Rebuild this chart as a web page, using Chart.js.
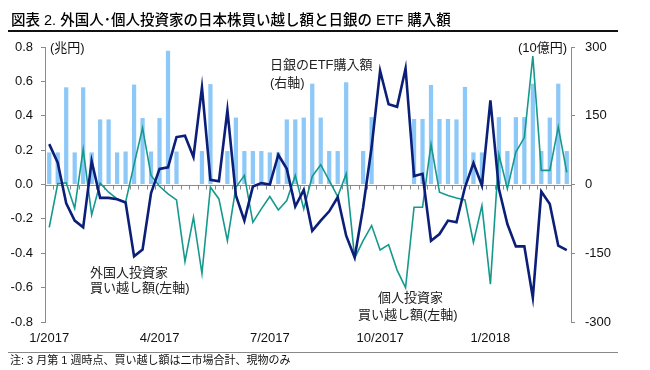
<!DOCTYPE html>
<html lang="ja">
<head>
<meta charset="utf-8">
<title>図表 2</title>
<script src="https://cdn.jsdelivr.net/npm/chart.js@4.4.0/dist/chart.umd.min.js"></script>
<style>
  body { margin: 0; background: #fff; }
  #wrap { position: relative; width: 650px; height: 370px; font-family: "Liberation Sans", "Noto Sans CJK JP", sans-serif; color: #111; }
  #wrap canvas { position: absolute; left: 0; top: 0; }
  .txt { position: absolute; white-space: nowrap; }
  .title { left: 11px; top: 10px; font-size: 14.5px; line-height: 20px; font-weight: 500; color: #000; }
  .rule { position: absolute; left: 8px; width: 610px; }
  .note { left: 10px; top: 352px; font-size: 11px; line-height: 16px; }
  .unit { font-size: 13px; line-height: 16px; top: 40px; }
  .ann { font-size: 13px; line-height: 16px; color: #222; }
</style>
</head>
<body>
<div id="wrap">
  <canvas id="chart" width="650" height="370"></canvas>
  <div class="txt title">図表 2. 外国人･個人投資家の日本株買い越し額と日銀の ETF 購入額</div>
  <div class="rule" style="top:30px;height:2px;background:#111"></div>
  <div class="rule" style="top:352px;height:1px;background:#888"></div>
  <div class="txt note">注: 3 月第 1 週時点、買い越し額は二市場合計、現物のみ</div>
  <div class="txt unit" style="left:50px">(兆円)</div>
  <div class="txt unit" style="right:83px">(10億円)</div>
  <div class="txt ann" style="left:270px;top:57px">日銀のETF購入額</div>
  <div class="txt ann" style="left:270px;top:75px">(右軸)</div>
  <div class="txt ann" style="left:90px;top:265px">外国人投資家</div>
  <div class="txt ann" style="left:90px;top:280px">買い越し額(左軸)</div>
  <div class="txt ann" style="left:378px;top:290px">個人投資家</div>
  <div class="txt ann" style="left:358px;top:307px">買い越し額(左軸)</div>
</div>
<script>
// weekly data, Jan 2017 - early Mar 2018
const tickLabels = ['1/2017', '4/2017', '7/2017', '10/2017', '1/2018'];
const tickIndex = [0, 13, 26, 39, 52];

// 日銀 ETF 購入額 (10億円, right axis)
const etfBuying = [
  70, 70, 212, 70, 212, 70, 142, 142, 70, 72, 218, 145, 72, 145, 292, 72,
  0, 0, 73, 219, 0, 73, 146, 73, 73, 73, 70, 70, 142, 142, 146, 220,
  146, 73, 73, 223, 0, 73, 147, 0, 0, 0, 0, 143, 143, 217, 143, 143,
  142, 213, 70, 70, 0, 147, 73, 147, 147, 220, 73, 146, 220, 73
];

// 外国人投資家 買い越し額 (兆円, left axis)
const foreigners = [
  0.235, 0.127, -0.109, -0.21, -0.249, 0.136, -0.078, -0.078, -0.086, -0.105, -0.418, -0.378, -0.05, 0.091, 0.10, 0.276,
  0.284, 0.16, 0.565, 0.027, 0.019, 0.432, -0.064, -0.21, -0.012, 0.008, 0.0, 0.173, 0.091, -0.128, -0.031, -0.27,
  -0.21, -0.156, -0.074, -0.298, -0.424, -0.132, 0.218, 0.662, 0.467, 0.452, 0.675, 0.049, 0.062, -0.327, -0.288, -0.21,
  -0.22, -0.016, 0.125, -0.006, 0.49, -0.025, -0.23, -0.36, -0.36, -0.658, -0.041, -0.113, -0.356, -0.382
];

// 個人投資家 買い越し額 (兆円, left axis)
const individuals = [
  -0.249, 0.004, 0.01, -0.138, 0.204, -0.177, 0.008, -0.045, -0.084, -0.103, 0.117, 0.329, 0.053, -0.01, -0.055, -0.09,
  -0.448, -0.19, -0.518, -0.016, -0.084, -0.327, -0.016, 0.053, -0.22, -0.142, -0.07, -0.148, -0.093, 0.053, -0.142, 0.048,
  0.115, 0.023, -0.07, 0.062, -0.428, -0.327, -0.239, -0.381, -0.35, -0.498, -0.6, -0.132, -0.132, 0.234, -0.045, -0.064,
  -0.078, -0.09, -0.337, -0.123, -0.58, 0.175, -0.025, 0.189, 0.273, 0.747, 0.082, 0.082, 0.335, 0.07
];

const weeks = etfBuying.map((_, i) => i);

const axisGray = '#8a8a8a';
const tickFont = { family: 'Liberation Sans', size: 13 };

// zero line with week tick marks
const zeroAxis = {
  id: 'zeroAxis',
  beforeDatasetsDraw(chart) {
    const x = chart.scales.x, y = chart.scales.y;
    const y0 = Math.round(y.getPixelForValue(0)) + 0.5;
    const ctx = chart.ctx;
    const w = (x.right - x.left) / weeks.length;
    ctx.save();
    ctx.strokeStyle = axisGray;
    ctx.lineWidth = 1;
    ctx.beginPath();
    ctx.moveTo(x.left, y0);
    ctx.lineTo(x.right, y0);
    for (let k = 0; k <= weeks.length; k++) {
      const px = Math.round(x.left + k * w) + 0.5;
      ctx.moveTo(px, y0);
      ctx.lineTo(px, y0 + 4);
    }
    ctx.stroke();
    ctx.restore();
  }
};

new Chart(document.getElementById('chart'), {
  type: 'bar',
  data: {
    labels: weeks,
    datasets: [
      { type: 'line', data: foreigners, yAxisID: 'y', borderColor: '#0c1f78', borderWidth: 2.6,
        pointRadius: 0, tension: 0, order: 1 },
      { type: 'line', data: individuals, yAxisID: 'y', borderColor: '#16998d', borderWidth: 1.6,
        pointRadius: 0, tension: 0, order: 2 },
      { type: 'bar', data: etfBuying, yAxisID: 'y1', backgroundColor: '#8cc8f8',
        barPercentage: 0.5, categoryPercentage: 1.0, order: 3 }
    ]
  },
  options: {
    responsive: false, animation: false, devicePixelRatio: 1,
    layout: { padding: { top: 47, left: 0, right: 0, bottom: 0 } },
    plugins: { legend: { display: false }, tooltip: { enabled: false } },
    scales: {
      x: {
        type: 'category', offset: true,
        grid: { display: false, drawTicks: false }, border: { display: false },
        ticks: {
          autoSkip: false, maxRotation: 0, padding: 9, color: '#111', font: tickFont,
          callback: (v, i) => { const k = tickIndex.indexOf(i); return k >= 0 ? tickLabels[k] : ''; }
        },
        afterFit: s => { s.height = 48; }
      },
      y: {
        position: 'left', min: -0.8, max: 0.8,
        grid: { drawOnChartArea: false, drawTicks: true, tickLength: 4, color: axisGray },
        border: { color: axisGray },
        ticks: { stepSize: 0.2, padding: 8, color: '#111', font: tickFont, callback: v => v.toFixed(1) },
        afterFit: s => { s.width = 45; }
      },
      y1: {
        position: 'right', min: -300, max: 300,
        grid: { drawOnChartArea: false, drawTicks: true, tickLength: 4, color: axisGray },
        border: { color: axisGray },
        ticks: { stepSize: 150, padding: 10, color: '#111', font: tickFont },
        afterFit: s => { s.width = 79; }
      }
    }
  },
  plugins: [zeroAxis]
});
</script>
</body>
</html>
